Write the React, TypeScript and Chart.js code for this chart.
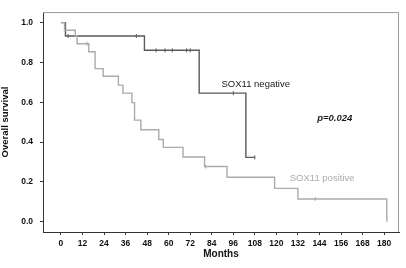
import React, { useEffect, useRef } from "react";
import { Chart, registerables } from "chart.js";

Chart.register(...registerables);

// SOX11 negative (Kaplan-Meier steps)
const negTimes = [0, 2.5, 46.5, 77, 103, 108];
const negSurv = [1.0, 0.933, 0.861, 0.646, 0.323, 0.323];
const negCensorTimes = [4, 42, 53, 58, 62, 70, 72, 96, 108];
const negCensorSurv = [0.933, 0.933, 0.861, 0.861, 0.861, 0.861, 0.861, 0.646, 0.323];

// SOX11 positive
const posTimes = [0, 2, 8, 9, 15.5, 19, 23.5, 32, 34.5, 39.5, 41, 44.5, 54.5, 57, 68, 80, 92.5, 119, 132, 181.5];
const posSurv = [1.0, 0.962, 0.933, 0.894, 0.854, 0.769, 0.731, 0.686, 0.646, 0.598, 0.51, 0.462, 0.413, 0.373, 0.325, 0.277, 0.223, 0.167, 0.114, 0.0];
const posCensorTimes = [14.5, 80.6, 141.7];
const posCensorSurv = [0.894, 0.277, 0.114];

const xTicks = [0, 12, 24, 36, 48, 60, 72, 84, 96, 108, 120, 132, 144, 156, 168, 180];
const yTicks = [0.0, 0.2, 0.4, 0.6, 0.8, 1.0];

const labelNeg = "SOX11 negative";
const labelPos = "SOX11 positive";
const pText = "p=0.024";

const NEG_COLOR = "#5a5a5a";
const POS_COLOR = "#ababab";
const FONT = "'Liberation Sans', Arial, sans-serif";

const pts = (xs: number[], ys: number[]) => xs.map((x, i) => ({ x, y: ys[i] }));

const overlay = {
  id: "overlay",
  afterDraw(chart: any) {
    const { ctx, chartArea, scales } = chart;
    const xs = scales.x;
    const ys = scales.y;
    ctx.save();
    // box top/right borders
    ctx.strokeStyle = "#9a9a9a";
    ctx.lineWidth = 1;
    ctx.beginPath();
    ctx.moveTo(chartArea.left, chartArea.top + 0.5);
    ctx.lineTo(chartArea.right - 0.5, chartArea.top + 0.5);
    ctx.lineTo(chartArea.right - 0.5, chartArea.bottom);
    ctx.stroke();

    ctx.textAlign = "center";
    ctx.textBaseline = "middle";
    ctx.fillStyle = "#1a1a1a";
    ctx.font = `9.5px ${FONT}`;
    ctx.fillText(labelNeg, xs.getPixelForValue(108.5), ys.getPixelForValue(0.692));
    ctx.font = `italic bold 9.5px ${FONT}`;
    ctx.fillText(pText, xs.getPixelForValue(152.5), ys.getPixelForValue(0.52));
    ctx.fillStyle = POS_COLOR;
    ctx.font = `9.5px ${FONT}`;
    ctx.fillText(labelPos, xs.getPixelForValue(145.5), ys.getPixelForValue(0.216));
    ctx.restore();
  },
};

export default function App() {
  const ref = useRef<HTMLCanvasElement>(null);
  useEffect(() => {
    document.body.style.margin = "0";
    const canvas = ref.current!;
    const chart = new Chart(canvas, {
      type: "line",
      data: {
        datasets: [
          {
            data: pts(posTimes, posSurv),
            borderColor: POS_COLOR,
            borderWidth: 1.4,
            stepped: "before",
            pointRadius: 0,
            fill: false,
          } as any,
          {
            data: pts(negTimes, negSurv),
            borderColor: NEG_COLOR,
            borderWidth: 1.4,
            stepped: "before",
            pointRadius: 0,
            fill: false,
          } as any,
          {
            data: pts(posCensorTimes, posCensorSurv),
            showLine: false,
            pointStyle: "line",
            rotation: 90,
            pointRadius: 2,
            borderColor: POS_COLOR,
            borderWidth: 1,
          } as any,
          {
            data: pts(negCensorTimes, negCensorSurv),
            showLine: false,
            pointStyle: "line",
            rotation: 90,
            pointRadius: 2,
            borderColor: NEG_COLOR,
            borderWidth: 1,
          } as any,
        ],
      },
      options: {
        responsive: false,
        animation: false,
        layout: { padding: { top: 2, right: 7, left: 0, bottom: 0 } },
        plugins: { legend: { display: false }, tooltip: { enabled: false } },
        scales: {
          x: {
            type: "linear",
            min: -10,
            max: 188.3,
            afterBuildTicks: (s: any) => {
              s.ticks = xTicks.map((v) => ({ value: v }));
            },
            afterFit: (s: any) => {
              s.height = 36;
            },
            grid: { drawOnChartArea: false, drawTicks: true, tickLength: 3, color: "#333" },
            border: { display: true, color: "#333", width: 1 },
            ticks: {
              autoSkip: false,
              maxRotation: 0,
              padding: 4,
              color: "#111",
              font: { family: FONT, size: 8.5, weight: "bold" },
              callback: (v: any) => String(v),
            },
            title: {
              display: true,
              text: "Months",
              color: "#111",
              font: { family: FONT, size: 10, weight: "bold" },
              padding: { top: 0, bottom: 8 },
            },
          },
          y: {
            type: "linear",
            min: -0.052,
            max: 1.053,
            afterBuildTicks: (s: any) => {
              s.ticks = yTicks.map((v) => ({ value: v }));
            },
            afterFit: (s: any) => {
              s.width = 43;
            },
            grid: { drawOnChartArea: false, drawTicks: true, tickLength: 3, color: "#333" },
            border: { display: true, color: "#333", width: 1 },
            ticks: {
              padding: 7,
              color: "#111",
              font: { family: FONT, size: 8.5, weight: "bold" },
              callback: (v: any) => Number(v).toFixed(1),
            },
            title: {
              display: true,
              text: "Overall survival",
              color: "#111",
              font: { family: FONT, size: 9.5, weight: "bold" },
              padding: { top: 0, bottom: 0 },
            },
          },
        },
      },
      plugins: [overlay],
    } as any);
    return () => chart.destroy();
  }, []);
  return (
    <div style={{ width: 406, height: 268, background: "#fff" }}>
      <canvas ref={ref} width={406} height={268} style={{ display: "block" }} />
    </div>
  );
}
